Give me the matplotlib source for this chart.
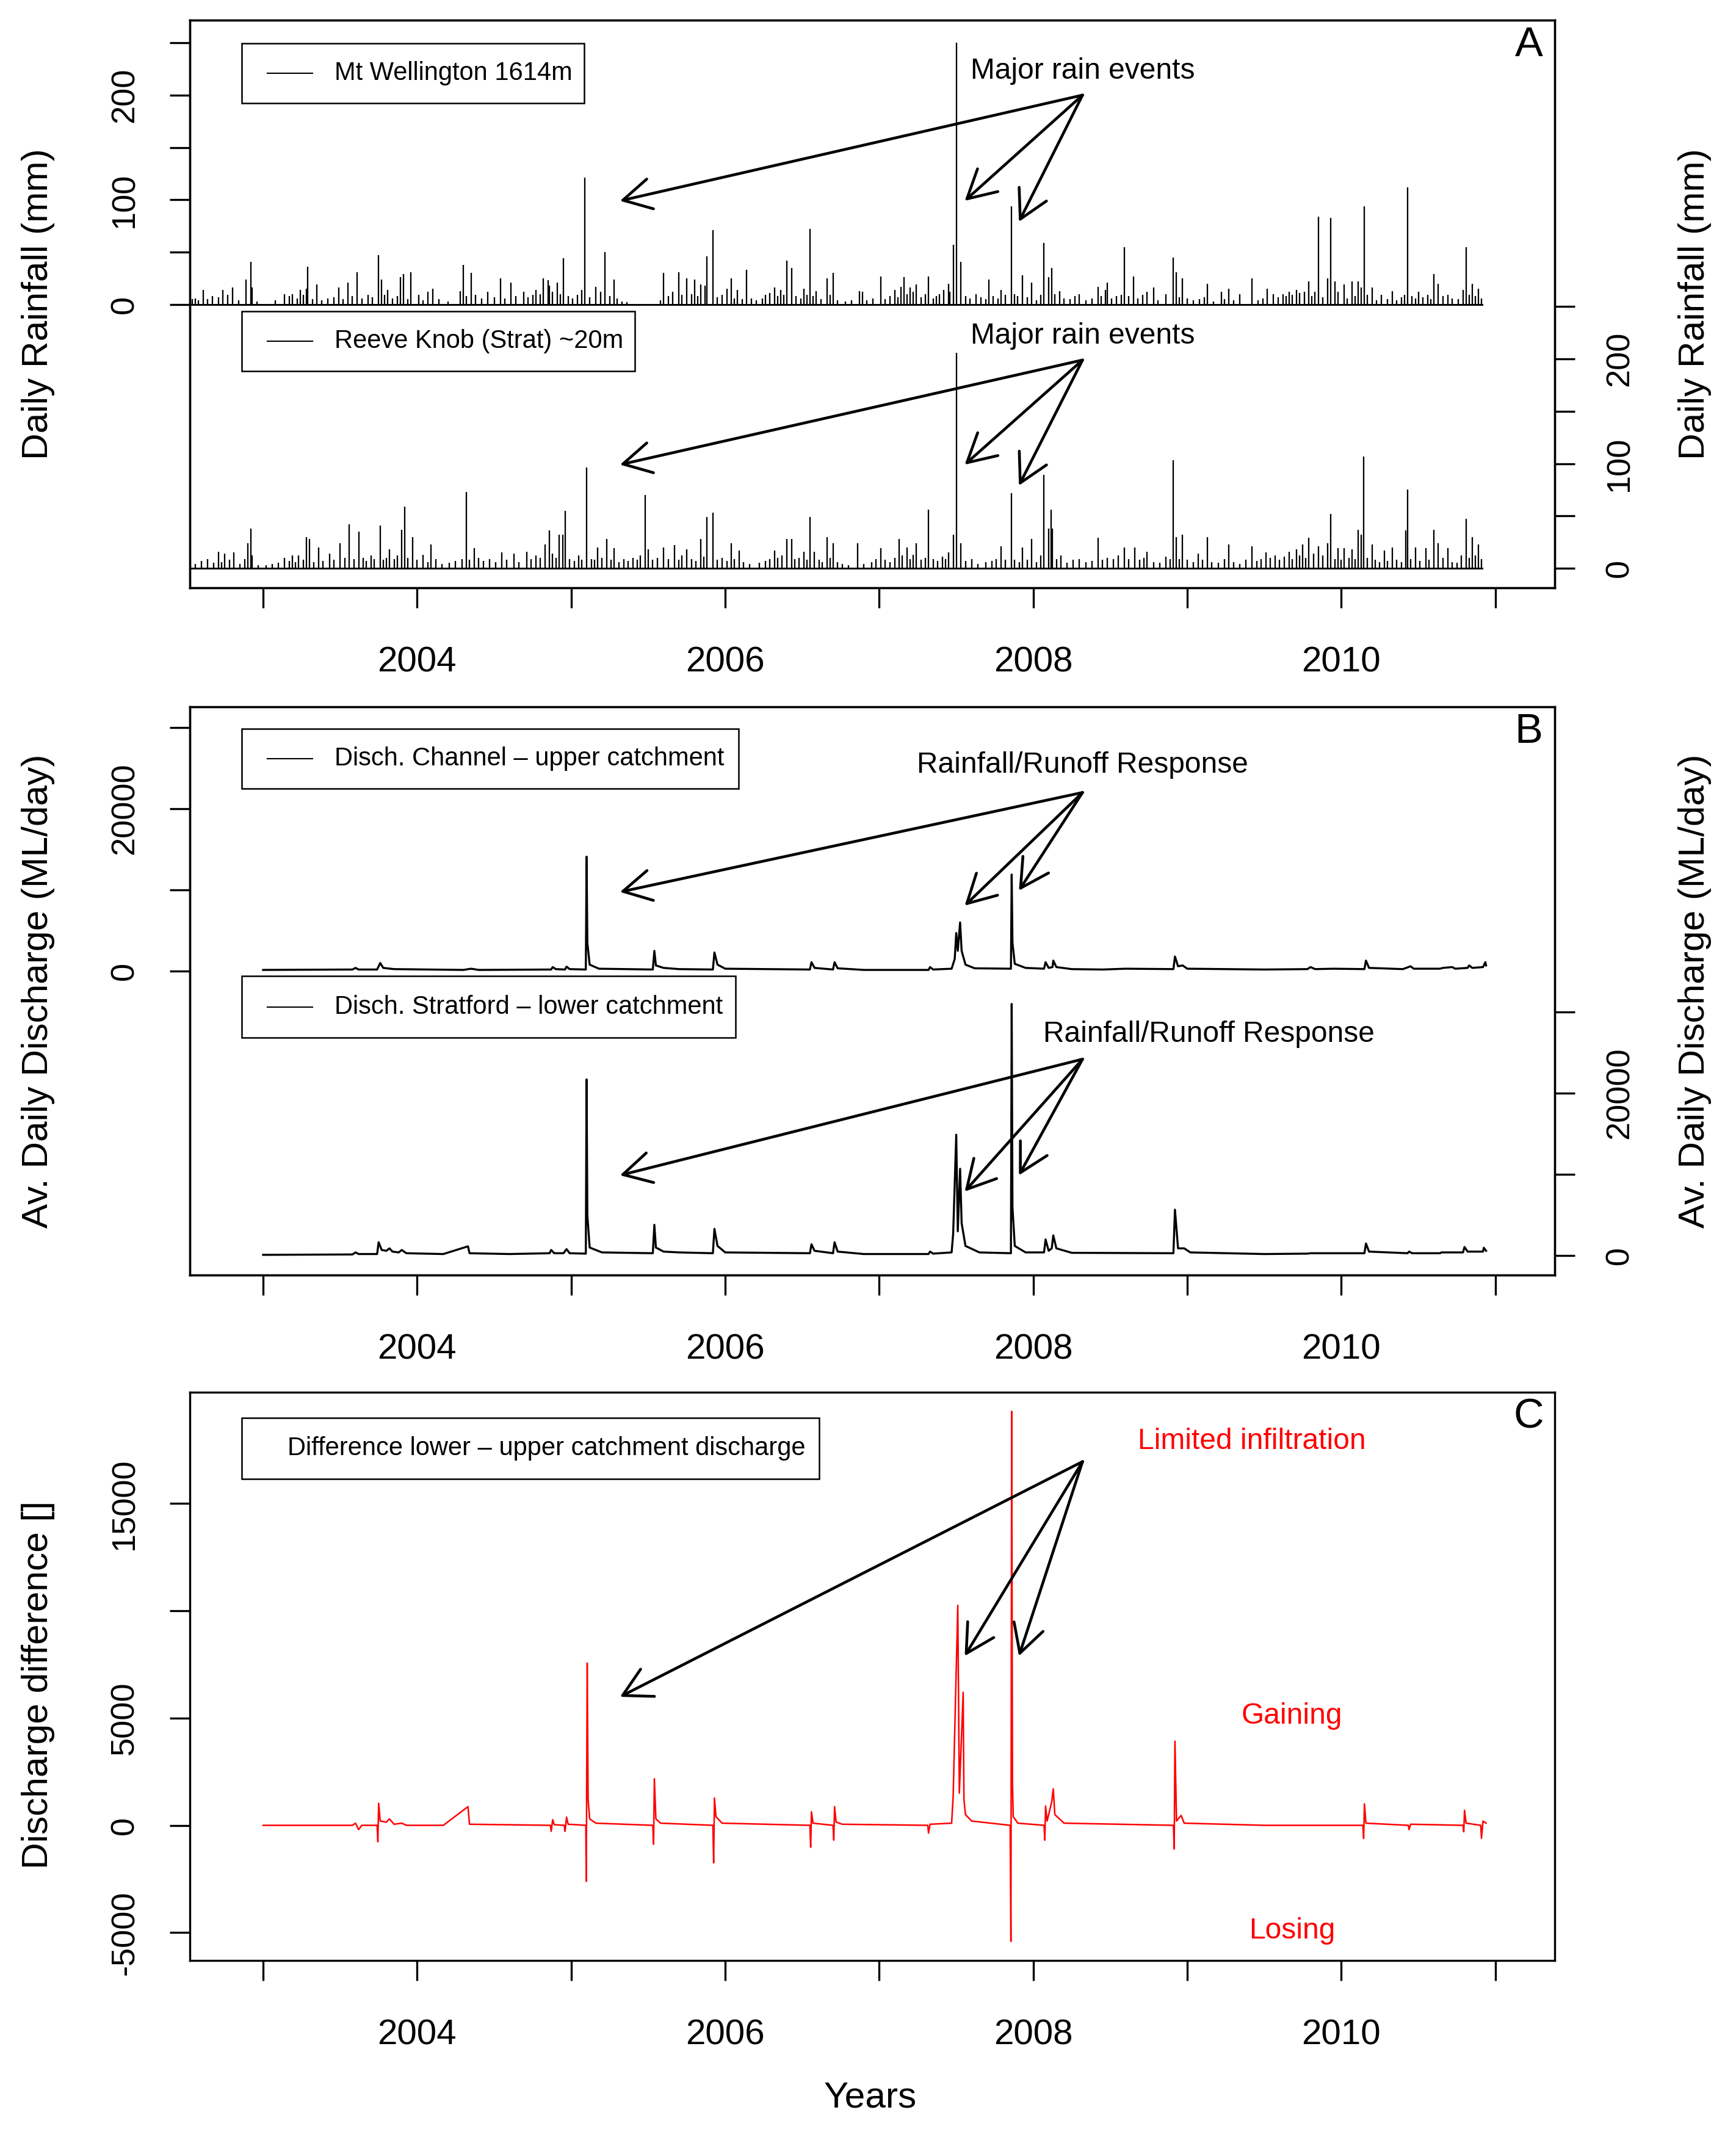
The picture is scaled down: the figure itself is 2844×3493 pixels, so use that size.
import matplotlib.pyplot as plt
from matplotlib.patches import Rectangle

plt.rcParams['font.family'] = ['Liberation Sans', 'DejaVu Sans']

# ---- data (decimal years) ----
years = [2003, 2004, 2005, 2006, 2007, 2008, 2009, 2010, 2011]
year_labels = ['', '2004', '', '2006', '', '2008', '', '2010', '']

# Mt Wellington 1614m daily rainfall (mm), rain days only
wel_t = [2002.54, 2002.56, 2002.58, 2002.61, 2002.64, 2002.67, 2002.71, 2002.74, 2002.77, 2002.80,
         2002.84, 2002.89, 2002.92, 2002.93, 2002.96, 2003.08, 2003.14, 2003.17, 2003.19, 2003.22,
         2003.24, 2003.26, 2003.28, 2003.29, 2003.32, 2003.35, 2003.38, 2003.42, 2003.46, 2003.49,
         2003.52, 2003.55, 2003.58, 2003.61, 2003.64, 2003.68, 2003.71, 2003.75, 2003.77, 2003.79,
         2003.81, 2003.84, 2003.87, 2003.89, 2003.91, 2003.94, 2003.96, 2004.01, 2004.04, 2004.07,
         2004.10, 2004.14, 2004.20, 2004.28, 2004.30, 2004.32, 2004.35, 2004.38, 2004.42, 2004.46,
         2004.50, 2004.54, 2004.57, 2004.61, 2004.64, 2004.69, 2004.72, 2004.75, 2004.77, 2004.80,
         2004.82, 2004.85, 2004.86, 2004.88, 2004.91, 2004.93, 2004.95, 2004.98, 2005.01, 2005.04,
         2005.07, 2005.09, 2005.12, 2005.16, 2005.19, 2005.22, 2005.25, 2005.28, 2005.30, 2005.33,
         2005.36, 2005.58, 2005.60, 2005.63, 2005.66, 2005.70, 2005.72, 2005.75, 2005.78, 2005.80,
         2005.82, 2005.84, 2005.87, 2005.88, 2005.92, 2005.95, 2005.98, 2006.01, 2006.04, 2006.06,
         2006.08, 2006.11, 2006.14, 2006.17, 2006.20, 2006.24, 2006.26, 2006.29, 2006.32, 2006.34,
         2006.36, 2006.38, 2006.40, 2006.43, 2006.46, 2006.49, 2006.51, 2006.53, 2006.55, 2006.57,
         2006.59, 2006.62, 2006.66, 2006.68, 2006.70, 2006.73, 2006.78, 2006.82, 2006.87, 2006.89,
         2006.92, 2006.96, 2007.01, 2007.04, 2007.07, 2007.10, 2007.12, 2007.14, 2007.16, 2007.18,
         2007.20, 2007.22, 2007.24, 2007.27, 2007.30, 2007.32, 2007.35, 2007.37, 2007.39, 2007.42,
         2007.45, 2007.46, 2007.48, 2007.50, 2007.53, 2007.56, 2007.59, 2007.63, 2007.66, 2007.69,
         2007.71, 2007.74, 2007.77, 2007.79, 2007.82, 2007.86, 2007.88, 2007.90, 2007.93, 2007.96,
         2007.99, 2008.02, 2008.05, 2008.07, 2008.10, 2008.12, 2008.14, 2008.17, 2008.20, 2008.24,
         2008.27, 2008.30, 2008.34, 2008.38, 2008.42, 2008.44, 2008.47, 2008.48, 2008.51, 2008.54,
         2008.57, 2008.59, 2008.62, 2008.65, 2008.68, 2008.71, 2008.74, 2008.78, 2008.81, 2008.86,
         2008.91, 2008.93, 2008.95, 2008.97, 2009.00, 2009.04, 2009.08, 2009.11, 2009.13, 2009.17,
         2009.22, 2009.24, 2009.27, 2009.30, 2009.34, 2009.42, 2009.46, 2009.49, 2009.52, 2009.56,
         2009.59, 2009.62, 2009.64, 2009.66, 2009.68, 2009.71, 2009.73, 2009.76, 2009.79, 2009.81,
         2009.83, 2009.85, 2009.88, 2009.91, 2009.93, 2009.96, 2009.98, 2010.02, 2010.04, 2010.07,
         2010.09, 2010.11, 2010.13, 2010.15, 2010.17, 2010.20, 2010.23, 2010.26, 2010.30, 2010.33,
         2010.36, 2010.39, 2010.41, 2010.43, 2010.46, 2010.48, 2010.50, 2010.53, 2010.56, 2010.58,
         2010.60, 2010.63, 2010.66, 2010.69, 2010.72, 2010.76, 2010.79, 2010.81, 2010.83, 2010.85,
         2010.87, 2010.89, 2010.91]
wel_mm = [5, 6, 4, 14, 5, 8, 7, 14, 9, 16,
          4, 24, 41, 16, 3, 4, 10, 8, 10, 6,
          14, 9, 15, 36, 5, 19, 4, 6, 7, 16,
          5, 21, 8, 31, 6, 9, 7, 47, 24, 9,
          14, 6, 8, 26, 29, 5, 31, 9, 4, 12,
          15, 5, 3, 13, 38, 8, 30, 9, 6, 12,
          7, 25, 6, 21, 8, 12, 7, 9, 14, 10,
          25, 23, 18, 12, 21, 10, 44, 8, 6, 9,
          14, 121, 7, 17, 12, 50, 8, 24, 6, 3,
          2, 4, 30, 8, 12, 31, 9, 25, 10, 24,
          8, 19, 18, 46, 71, 7, 9, 15, 25, 6,
          14, 5, 33, 6, 4, 6, 9, 11, 16, 8,
          14, 9, 42, 35, 8, 6, 15, 9, 72, 8,
          13, 5, 25, 9, 30, 4, 3, 4, 13, 12,
          4, 6, 27, 5, 8, 14, 7, 17, 26, 10,
          16, 12, 19, 7, 10, 27, 6, 8, 10, 14,
          20, 12, 57, 250, 41, 8, 6, 10, 7, 5,
          24, 8, 6, 14, 9, 94, 10, 8, 28, 7,
          21, 4, 9, 59, 26, 35, 10, 13, 6, 5,
          8, 10, 4, 6, 17, 8, 14, 21, 6, 8,
          9, 55, 8, 27, 6, 9, 12, 16, 4, 10,
          45, 31, 7, 25, 6, 4, 5, 7, 20, 3,
          12, 5, 15, 4, 10, 25, 4, 6, 15, 10,
          7, 10, 8, 12, 9, 14, 11, 12, 22, 8,
          12, 84, 7, 25, 83, 22, 12, 19, 6, 22,
          8, 22, 16, 94, 9, 16, 4, 9, 5, 13,
          4, 7, 9, 112, 8, 6, 12, 7, 9, 5,
          29, 20, 8, 9, 6, 5, 14, 55, 9, 20,
          8, 15, 6]

# Reeve Knob (Strat) ~20m daily rainfall (mm)
ree_t = [2002.53, 2002.56, 2002.60, 2002.64, 2002.68, 2002.71, 2002.73, 2002.75, 2002.78, 2002.81,
         2002.85, 2002.88, 2002.90, 2002.92, 2002.93, 2002.97, 2003.02, 2003.06, 2003.10, 2003.14,
         2003.17, 2003.19, 2003.21, 2003.23, 2003.26, 2003.28, 2003.30, 2003.33, 2003.36, 2003.39,
         2003.43, 2003.46, 2003.50, 2003.53, 2003.56, 2003.59, 2003.62, 2003.65, 2003.67, 2003.70,
         2003.72, 2003.76, 2003.78, 2003.80, 2003.82, 2003.85, 2003.87, 2003.90, 2003.92, 2003.94,
         2003.97, 2004.00, 2004.04, 2004.07, 2004.09, 2004.12, 2004.16, 2004.21, 2004.25, 2004.29,
         2004.32, 2004.34, 2004.37, 2004.40, 2004.43, 2004.47, 2004.51, 2004.55, 2004.58, 2004.63,
         2004.66, 2004.71, 2004.74, 2004.77, 2004.80, 2004.83, 2004.86, 2004.88, 2004.90, 2004.92,
         2004.945, 2004.96, 2004.99, 2005.02, 2005.05, 2005.07, 2005.10, 2005.13, 2005.15, 2005.17,
         2005.20, 2005.23, 2005.26, 2005.28, 2005.31, 2005.34, 2005.37, 2005.40, 2005.43, 2005.45,
         2005.48, 2005.50, 2005.53, 2005.56, 2005.60, 2005.63, 2005.67, 2005.70, 2005.72, 2005.75,
         2005.78, 2005.81, 2005.84, 2005.86, 2005.88, 2005.92, 2005.95, 2005.98, 2006.01, 2006.04,
         2006.06, 2006.09, 2006.12, 2006.16, 2006.22, 2006.26, 2006.29, 2006.32, 2006.34, 2006.37,
         2006.40, 2006.43, 2006.45, 2006.48, 2006.51, 2006.53, 2006.55, 2006.58, 2006.61, 2006.63,
         2006.66, 2006.68, 2006.70, 2006.73, 2006.76, 2006.80, 2006.86, 2006.90, 2006.95, 2006.98,
         2007.01, 2007.04, 2007.07, 2007.10, 2007.13, 2007.15, 2007.18, 2007.20, 2007.22, 2007.24,
         2007.27, 2007.30, 2007.32, 2007.35, 2007.38, 2007.41, 2007.43, 2007.45, 2007.48, 2007.50,
         2007.53, 2007.56, 2007.60, 2007.64, 2007.69, 2007.73, 2007.76, 2007.79, 2007.82, 2007.86,
         2007.88, 2007.91, 2007.93, 2007.96, 2007.99, 2008.02, 2008.05, 2008.07, 2008.10, 2008.115,
         2008.125, 2008.15, 2008.18, 2008.22, 2008.26, 2008.30, 2008.34, 2008.38, 2008.42, 2008.45,
         2008.48, 2008.52, 2008.55, 2008.59, 2008.62, 2008.66, 2008.69, 2008.72, 2008.74, 2008.78,
         2008.82, 2008.86, 2008.89, 2008.91, 2008.93, 2008.95, 2008.97, 2009.00, 2009.04, 2009.07,
         2009.10, 2009.13, 2009.16, 2009.20, 2009.24, 2009.27, 2009.30, 2009.34, 2009.38, 2009.42,
         2009.45, 2009.48, 2009.51, 2009.54, 2009.57, 2009.60, 2009.63, 2009.66, 2009.68, 2009.71,
         2009.73, 2009.75, 2009.77, 2009.79, 2009.82, 2009.85, 2009.88, 2009.91, 2009.93, 2009.96,
         2009.98, 2010.00, 2010.02, 2010.05, 2010.07, 2010.09, 2010.11, 2010.13, 2010.145, 2010.17,
         2010.20, 2010.22, 2010.25, 2010.28, 2010.30, 2010.33, 2010.36, 2010.39, 2010.42, 2010.43,
         2010.45, 2010.48, 2010.51, 2010.55, 2010.57, 2010.60, 2010.63, 2010.66, 2010.69, 2010.72,
         2010.75, 2010.78, 2010.81, 2010.83, 2010.85, 2010.87, 2010.89, 2010.91]
ree_mm = [3, 4, 7, 9, 5, 16, 6, 14, 8, 15,
          4, 9, 24, 38, 12, 3, 3, 4, 5, 10,
          7, 12, 6, 12, 8, 30, 28, 6, 20, 7,
          14, 8, 24, 10, 42, 9, 35, 10, 7, 12,
          9, 41, 8, 10, 18, 9, 12, 37, 59, 10,
          30, 8, 13, 6, 23, 9, 4, 5, 7, 9,
          73, 8, 19, 10, 7, 9, 6, 15, 8, 14,
          6, 16, 9, 12, 10, 23, 36, 14, 10, 32,
          32, 55, 9, 7, 12, 8, 96, 9, 8, 20,
          10, 28, 8, 19, 6, 9, 7, 10, 8, 12,
          70, 18, 8, 10, 20, 9, 22, 8, 12, 18,
          9, 7, 28, 11, 49, 53, 8, 10, 7, 24,
          9, 17, 6, 4, 5, 7, 9, 17, 10, 12,
          28, 28, 9, 10, 16, 8, 49, 16, 8, 6,
          30, 10, 24, 6, 4, 3, 24, 4, 6, 9,
          19, 8, 6, 10, 28, 12, 20, 9, 13, 24,
          8, 10, 56, 9, 7, 11, 9, 15, 32, 206,
          24, 7, 9, 4, 6, 7, 9, 21, 8, 72,
          8, 6, 20, 8, 28, 6, 12, 89, 38, 56,
          38, 9, 12, 5, 8, 9, 6, 7, 29, 8,
          10, 9, 12, 20, 9, 20, 8, 10, 16, 6,
          5, 11, 9, 103, 30, 9, 32, 8, 6, 14,
          8, 30, 6, 5, 9, 23, 6, 4, 8, 21,
          7, 9, 15, 10, 12, 8, 11, 16, 9, 18,
          12, 23, 10, 29, 14, 21, 12, 24, 52, 9,
          19, 8, 19, 10, 18, 9, 37, 32, 107, 10,
          23, 8, 6, 17, 7, 20, 8, 6, 36, 75,
          9, 20, 7, 19, 8, 37, 24, 10, 19, 6,
          5, 12, 47, 10, 30, 12, 23, 9]

rain_start = 2002.52
wel_end = 2010.915
ree_end = 2010.915

# Average daily discharge (ML/day), Channel - upper catchment
up_t = [2003.00, 2003.58, 2003.60, 2003.62, 2003.74, 2003.76, 2003.78, 2003.85, 2004.30, 2004.35,
        2004.40, 2004.87, 2004.88, 2004.90, 2004.96, 2004.97, 2004.99, 2005.095, 2005.10, 2005.105,
        2005.12, 2005.18, 2005.53, 2005.54, 2005.55, 2005.60, 2005.70, 2005.92, 2005.93, 2005.95,
        2006.00, 2006.55, 2006.56, 2006.58, 2006.70, 2006.71, 2006.73, 2006.90, 2007.32, 2007.33,
        2007.35, 2007.47, 2007.49, 2007.50, 2007.51, 2007.525, 2007.535, 2007.56, 2007.62, 2007.855,
        2007.86, 2007.865, 2007.88, 2007.95, 2008.07, 2008.08, 2008.10, 2008.125, 2008.13, 2008.15,
        2008.25, 2008.45, 2008.60, 2008.91, 2008.92, 2008.94, 2008.97, 2009.00, 2009.50, 2009.78,
        2009.80, 2009.83, 2009.95, 2010.15, 2010.16, 2010.18, 2010.40, 2010.45, 2010.47, 2010.64,
        2010.66, 2010.72, 2010.74, 2010.82, 2010.83, 2010.85, 2010.92, 2010.935, 2010.94]
up_q = [150, 200, 400, 200, 200, 1000, 400, 250, 150, 300,
        150, 200, 500, 250, 200, 550, 250, 200, 14100, 3500,
        800, 300, 200, 2500, 700, 400, 250, 200, 2300, 800,
        300, 200, 1100, 400, 200, 1100, 350, 150, 150, 500,
        200, 300, 1500, 4700, 2500, 6000, 2500, 800, 350, 300,
        11900, 3500, 900, 400, 300, 1100, 400, 500, 1300, 500,
        250, 200, 300, 250, 1800, 600, 700, 300, 200, 250,
        500, 250, 300, 250, 1300, 400, 250, 600, 300, 300,
        400, 500, 300, 400, 700, 400, 500, 1100, 700]

# Average daily discharge (ML/day), Stratford - lower catchment
low_t = [2003.00, 2003.58, 2003.60, 2003.62, 2003.74, 2003.75, 2003.77, 2003.80, 2003.82, 2003.84,
         2003.88, 2003.90, 2003.93, 2004.17, 2004.33, 2004.34, 2004.60, 2004.86, 2004.87, 2004.89,
         2004.95, 2004.97, 2004.99, 2005.095, 2005.10, 2005.105, 2005.12, 2005.20, 2005.53, 2005.54,
         2005.55, 2005.60, 2005.70, 2005.92, 2005.93, 2005.95, 2006.00, 2006.55, 2006.56, 2006.58,
         2006.70, 2006.71, 2006.73, 2006.90, 2007.32, 2007.33, 2007.35, 2007.47, 2007.48, 2007.50,
         2007.51, 2007.525, 2007.535, 2007.56, 2007.65, 2007.855, 2007.86, 2007.865, 2007.88, 2007.95,
         2008.07, 2008.08, 2008.10, 2008.12, 2008.13, 2008.15, 2008.25, 2008.91, 2008.92, 2008.94,
         2008.98, 2009.02, 2009.50, 2009.78, 2009.80, 2009.95, 2010.15, 2010.16, 2010.18, 2010.43,
         2010.44, 2010.46, 2010.64, 2010.65, 2010.79, 2010.80, 2010.82, 2010.92, 2010.925, 2010.94]
low_q = [100, 150, 400, 200, 200, 1650, 700, 600, 900, 500,
         400, 700, 300, 200, 1150, 300, 200, 300, 700, 300,
         300, 800, 300, 250, 21700, 5000, 1000, 400, 300, 3800,
         1000, 500, 400, 300, 3300, 1200, 400, 300, 1400, 600,
         300, 1650, 500, 200, 200, 500, 250, 400, 2700, 14900,
         3000, 10700, 4000, 1200, 400, 300, 31000, 6000, 1200, 400,
         400, 2000, 600, 900, 2500, 900, 350, 300, 5660, 900,
         900, 400, 200, 250, 300, 300, 300, 1500, 500, 300,
         500, 300, 300, 400, 400, 1070, 500, 500, 970, 600]

# Difference lower - upper catchment discharge
dif_t = [2003.00, 2003.58, 2003.60, 2003.62, 2003.64, 2003.74, 2003.745, 2003.75, 2003.76, 2003.80,
         2003.82, 2003.85, 2003.90, 2003.93, 2004.17, 2004.33, 2004.34, 2004.865, 2004.87, 2004.88,
         2004.89, 2004.955, 2004.96, 2004.97, 2004.98, 2005.095, 2005.098, 2005.104, 2005.11, 2005.12,
         2005.16, 2005.53, 2005.535, 2005.54, 2005.55, 2005.58, 2005.92, 2005.925, 2005.93, 2005.94,
         2005.98, 2006.55, 2006.555, 2006.56, 2006.57, 2006.70, 2006.705, 2006.71, 2006.72, 2006.76,
         2007.315, 2007.32, 2007.33, 2007.47, 2007.48, 2007.51, 2007.52, 2007.545, 2007.55, 2007.56,
         2007.60, 2007.85, 2007.855, 2007.86, 2007.865, 2007.87, 2007.90, 2008.07, 2008.075, 2008.08,
         2008.09, 2008.12, 2008.13, 2008.14, 2008.20, 2008.91, 2008.915, 2008.92, 2008.93, 2008.96,
         2008.98, 2009.50, 2010.14, 2010.145, 2010.15, 2010.16, 2010.435, 2010.44, 2010.45, 2010.79,
         2010.795, 2010.80, 2010.81, 2010.905, 2010.91, 2010.92, 2010.94]
dif_q = [0, 0, 100, -200, 0, 0, -765, 1030, 200, 150,
         300, 50, 100, 0, 0, 870, 50, 0, -280, 260,
         30, 0, -280, 380, 50, 0, -2610, 7560, 1200, 300,
         100, 0, -880, 2170, 300, 100, 0, -1750, 1270, 400,
         100, 0, -1020, 630, 100, 0, -690, 870, 150, 50,
         0, -360, 50, 100, 1360, 10250, 1500, 6200, 1200, 500,
         200, 0, -5410, 19290, 2000, 400, 100, 0, -690, 900,
         200, 1100, 1700, 500, 100, 0, -1100, 3920, 200, 460,
         100, 0, 0, -610, 1000, 100, 0, -200, 50, 0,
         -300, 700, 100, 0, -600, 200, 100]

# ---- figure ----
fig = plt.figure(figsize=(2845 / 300, 3493 / 300), dpi=300)
XLIM = (2002.524, 2011.386)
LEFT, WIDTH = 0.1093, 0.786
TICK_FS = 13
LAB_FS = 14.5
NOTE_FS = 11.5
LEG_FS = 10


def style_x(ax):
    ax.set_xlim(*XLIM)
    ax.set_xticks(years)
    ax.set_xticklabels(year_labels, fontsize=14)
    ax.tick_params(axis='x', direction='out', length=8, width=0.8, pad=15)
    for s in ax.spines.values():
        s.set_linewidth(0.8)


def style_y(ax, ticks, labels):
    ax.set_yticks(ticks)
    ax.set_yticklabels(labels, rotation=90, va='center', fontsize=TICK_FS)
    ax.tick_params(axis='y', direction='out', length=8, width=0.8, pad=11.5)


def legend_box(ax, x1, y0, y1, text, line=True, tx=0.106):
    ax.add_patch(Rectangle((0.038, y0), x1 - 0.038, y1 - y0, transform=ax.transAxes,
                           fill=False, edgecolor='black', lw=0.6, zorder=5))
    ym = (y0 + y1) / 2
    if line:
        ax.plot([0.057, 0.090], [ym, ym], transform=ax.transAxes, color='black', lw=0.5, zorder=6)
    ax.text(tx, ym, text, transform=ax.transAxes, fontsize=LEG_FS, va='center', ha='left', zorder=6)


def arrows(ax, start, ends):
    for e in ends:
        ax.annotate('', xy=e, xytext=start,
                    arrowprops=dict(arrowstyle='->,head_length=0.55,head_width=0.3', lw=1.1,
                                    color='black', shrinkA=0, shrinkB=0, mutation_scale=20))


def ylab(ax, text, x, y=0.5):
    ax.set_ylabel(text, fontsize=LAB_FS)
    ax.yaxis.set_label_coords(x, y)
    ax.yaxis.label.set_va('center')


# ---- panel A: rainfall ----
axA = fig.add_axes([LEFT, 0.7243, WIDTH, 0.2663])
axA.vlines(wel_t, 0, wel_mm, color='black', lw=0.55)
axA.plot([rain_start, wel_end], [0, 0], color='black', lw=0.7)
axA.set_ylim(-270.6, 271.7)
style_x(axA)
style_y(axA, [0, 50, 100, 150, 200, 250], ['0', '', '100', '', '200', ''])
ylab(axA, 'Daily Rainfall (mm)', -0.111)
legend_box(axA, 0.289, 0.854, 0.959, 'Mt Wellington 1614m')
axA.text(2008.32, 223, 'Major rain events', fontsize=NOTE_FS, ha='center', va='center')
arrows(axA, (2008.32, 200), [(2005.317, 99), (2007.555, 99), (2007.907, 79)])
axA.text(0.981, 0.956, 'A', transform=axA.transAxes, fontsize=16.5, ha='center', va='center')

axA2 = axA.twinx()
axA2.vlines(ree_t, 0, ree_mm, color='black', lw=0.55)
axA2.plot([rain_start, ree_end], [0, 0], color='black', lw=0.7)
axA2.set_ylim(-18.7, 524)
style_x(axA2)
style_y(axA2, [0, 50, 100, 150, 200, 250], ['0', '', '100', '', '200', ''])
ylab(axA2, 'Daily Rainfall (mm)', 1.1026)
legend_box(axA2, 0.326, 0.382, 0.487, 'Reeve Knob (Strat) ~20m')
axA2.text(2008.32, 222, 'Major rain events', fontsize=NOTE_FS, ha='center', va='center')
arrows(axA2, (2008.32, 199), [(2005.317, 99), (2007.555, 99), (2007.907, 79)])

# ---- panel B: discharge ----
axB = fig.add_axes([LEFT, 0.4019, WIDTH, 0.2666])
axB.plot(up_t, up_q, color='black', lw=0.8)
axB.set_ylim(-37440, 32560)
style_x(axB)
style_y(axB, [0, 10000, 20000, 30000], ['0', '', '20000', ''])
ylab(axB, 'Av. Daily Discharge (ML/day)', -0.111)
legend_box(axB, 0.402, 0.856, 0.961, 'Disch. Channel \u2013 upper catchment')
axB.text(2008.32, 25400, 'Rainfall/Runoff Response', fontsize=NOTE_FS, ha='center', va='center')
arrows(axB, (2008.32, 22000), [(2005.317, 9750), (2007.555, 8070), (2007.907, 9920)])
axB.text(0.981, 0.956, 'B', transform=axB.transAxes, fontsize=16.5, ha='center', va='center')

axB2 = axB.twinx()
axB2.plot(low_t, low_q, color='black', lw=0.8)
axB2.set_ylim(-2400, 67600)
style_x(axB2)
style_y(axB2, [0, 10000, 20000, 30000], ['0', '', '20000', ''])
ylab(axB2, 'Av. Daily Discharge (ML/day)', 1.1026)
legend_box(axB2, 0.400, 0.418, 0.526, 'Disch. Stratford \u2013 lower catchment')
axB2.text(2009.14, 27230, 'Rainfall/Runoff Response', fontsize=NOTE_FS, ha='center', va='center')
arrows(axB2, (2008.32, 24200), [(2005.317, 9900), (2007.555, 7900), (2007.907, 9900)])

# ---- panel C: difference ----
axC = fig.add_axes([LEFT, 0.0805, WIDTH, 0.2665])
axC.plot(dif_t, dif_q, color='#FF0000', lw=0.6)
axC.set_ylim(-6294, 20185)
style_x(axC)
style_y(axC, [-5000, 0, 5000, 10000, 15000], ['-5000', '0', '5000', '', '15000'])
ylab(axC, 'Discharge difference []', -0.111, 0.485)
legend_box(axC, 0.461, 0.847, 0.955, 'Difference lower \u2013 upper catchment discharge',
           line=False, tx=0.0716)
axC.text(2009.42, 17900, 'Limited infiltration', color='#FF0000', fontsize=NOTE_FS, ha='center', va='center')
axC.text(2009.68, 5100, 'Gaining', color='#FF0000', fontsize=NOTE_FS, ha='center', va='center')
axC.text(2009.68, -4910, 'Losing', color='#FF0000', fontsize=NOTE_FS, ha='center', va='center')
arrows(axC, (2008.32, 16950), [(2005.317, 5990), (2007.555, 7890), (2007.907, 7890)])
axC.text(0.981, 0.956, 'C', transform=axC.transAxes, fontsize=16.5, ha='center', va='center')

fig.text(0.501, 0.016, 'Years', fontsize=LAB_FS, ha='center', va='center')

fig.savefig('out.png', dpi=300)
